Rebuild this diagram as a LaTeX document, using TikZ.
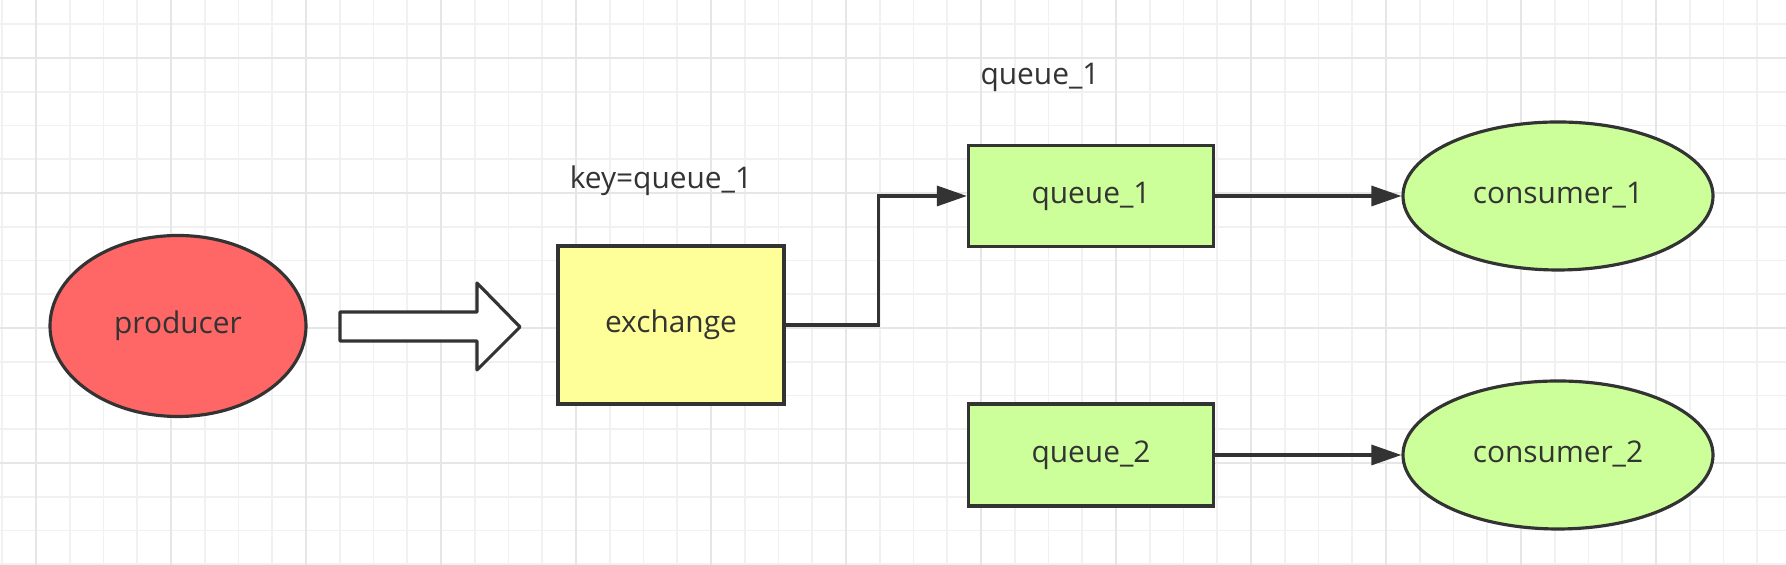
\documentclass[tikz,border=0pt]{standalone}
\usepackage{fontspec}
\setmainfont{Open Sans}
\usepackage{tikz}
\usetikzlibrary{arrows.meta,shapes.geometric,positioning}

\definecolor{ink}{HTML}{333333}
\definecolor{gridminor}{HTML}{F1F1F1}
\definecolor{gridmajor}{HTML}{E6E6E6}
\definecolor{prodfill}{HTML}{FF6666}
\definecolor{exchfill}{HTML}{FFFF99}
\definecolor{queuefill}{HTML}{CCFF99}

\tikzset{
	box/.style={draw=ink, line width=1.8pt, rectangle, text=ink, inner sep=0pt, text height=1.05em, text depth=0.2em},
	blob/.style={draw=ink, line width=1.8pt, ellipse, text=ink, inner sep=0pt, text height=1.05em, text depth=0.2em},
	link/.style={draw=ink, line width=1.8pt, -{Triangle[length=0.6cm, width=0.4cm]}},
	tag/.style={text=ink, inner sep=0pt, text height=1.05em, text depth=0.2em}
}

\begin{document}
\begin{tikzpicture}[font=\fontsize{17}{20}\selectfont]
	% Canvas and grid
	\useasboundingbox (0,0) rectangle (35.72,11.3);
	\fill[white] (0,0) rectangle (35.72,11.3);
	\foreach \i in {0,...,52}
		\draw[gridminor, line width=1pt] (0.045+\i*0.675,0) -- (0.045+\i*0.675,11.3);
	\foreach \k in {0,...,16}
		\draw[gridminor, line width=1pt] (0,11.3-0.485-\k*0.675) -- (35.72,11.3-0.485-\k*0.675);
	\foreach \i in {1,5,...,49}
		\draw[gridmajor, line width=1pt] (0.045+\i*0.675,0) -- (0.045+\i*0.675,11.3);
	\foreach \k in {1,5,...,13}
		\draw[gridmajor, line width=1pt] (0,11.3-0.485-\k*0.675) -- (35.72,11.3-0.485-\k*0.675);

	% Nodes {producer, exchange, queues, consumers}
	\node [blob, fill=prodfill, minimum width=5.12cm, minimum height=3.62cm] (producer) at (3.56,4.78) {producer};
	\node [box, fill=exchfill, minimum width=4.52cm, minimum height=3.16cm] (exchange) at (13.42,4.80) {exchange};
	\node [box, fill=queuefill, minimum width=4.9cm, minimum height=2.02cm] (queue1) at (21.82,7.38) {queue\_1};
	\node [box, fill=queuefill, minimum width=4.9cm, minimum height=2.04cm] (queue2) [below of=queue1, node distance=5.18cm] {queue\_2};
	\node [blob, fill=queuefill, minimum width=6.2cm, minimum height=2.96cm] (consumer1) [right of=queue1, node distance=9.34cm] {consumer\_1};
	\node [blob, fill=queuefill, minimum width=6.2cm, minimum height=2.96cm] (consumer2) [right of=queue2, node distance=9.34cm] {consumer\_2};

	% Labels
	\node [tag] (qlabel) at (20.8,9.76) {queue\_1};
	\node [tag] (keylabel) at (13.22,7.68) {key=queue\_1};

	% Block arrow producer -> exchange
	\draw[ink, line width=1.8pt, fill=white, line join=round]
		(6.8,5.06) -- (9.54,5.06) -- (9.54,5.64) -- (10.4,4.76)
		-- (9.54,3.9) -- (9.54,4.48) -- (6.8,4.48) -- cycle;

	% Paths
	\draw [link] (exchange.east) -- ++(1.86,0) |- (queue1.west);
	\draw [link] (queue1) -- (consumer1);
	\draw [link] (queue2) -- (consumer2);
\end{tikzpicture}
\end{document}
